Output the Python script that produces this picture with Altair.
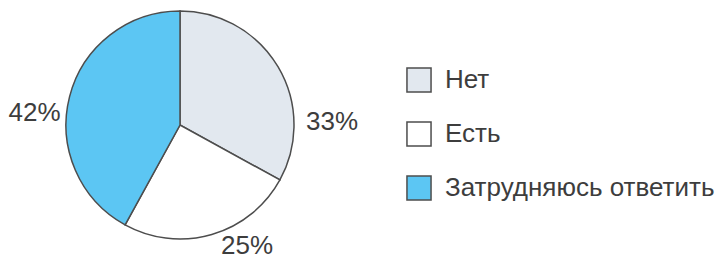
import altair as alt
import pandas as pd

categories = ["Нет", "Есть", "Затрудняюсь ответить"]
values = [33, 25, 42]
labels = ["33%", "25%", "42%"]
colors = ["#e2e8ef", "#ffffff", "#5cc6f3"]

df = pd.DataFrame({
    "cat": categories,
    "value": values,
    "label": labels,
    "order": list(range(len(categories))),
})

stroke = "#4d4d4d"
font = "Liberation Sans"
text_color = "#3d3d3d"

base = alt.Chart(df).transform_stack(
    stack="value", as_=["v0", "v1"], groupby=[], sort=[alt.SortField("order")]
).transform_calculate(mid="(datum.v0 + datum.v1) / 2")

theta_scale = alt.Scale(domain=[0, sum(values)], zero=True, nice=False)

pie = base.mark_arc(outerRadius=114, stroke=stroke, strokeWidth=1.5).encode(
    theta=alt.Theta("v0:Q", stack=None, scale=theta_scale),
    theta2="v1:Q",
    color=alt.Color(
        "cat:N",
        sort=categories,
        scale=alt.Scale(domain=categories, range=colors),
        legend=alt.Legend(
            title=None,
            orient="none",
            legendX=398,
            legendY=59,
            symbolType="square",
            symbolSize=580,
            symbolStrokeColor=stroke,
            symbolStrokeWidth=1.5,
            labelFontSize=26,
            labelFont=font,
            labelColor=text_color,
            labelOffset=13,
            labelLimit=0,
            rowPadding=22,
            padding=0,
        ),
    ),
)


def label_layer(cat, radius, theta_offset):
    return base.transform_filter(alt.datum.cat == cat).mark_text(
        radius=radius, thetaOffset=theta_offset, fontSize=26, font=font, color=text_color
    ).encode(theta=alt.Theta("mid:Q", stack=None, scale=theta_scale), text="label:N")


lab_33 = label_layer("Нет", 152, 0.515)
lab_25 = label_layer("Есть", 138, -0.225)
lab_42 = label_layer("Затрудняюсь ответить", 146, -0.169)

chart = alt.layer(pie, lab_33, lab_25, lab_42).properties(
    width=344, height=234, padding=0
).configure_view(stroke=None)

chart.save("out.html", embed_options={"renderer": "svg", "actions": False})
